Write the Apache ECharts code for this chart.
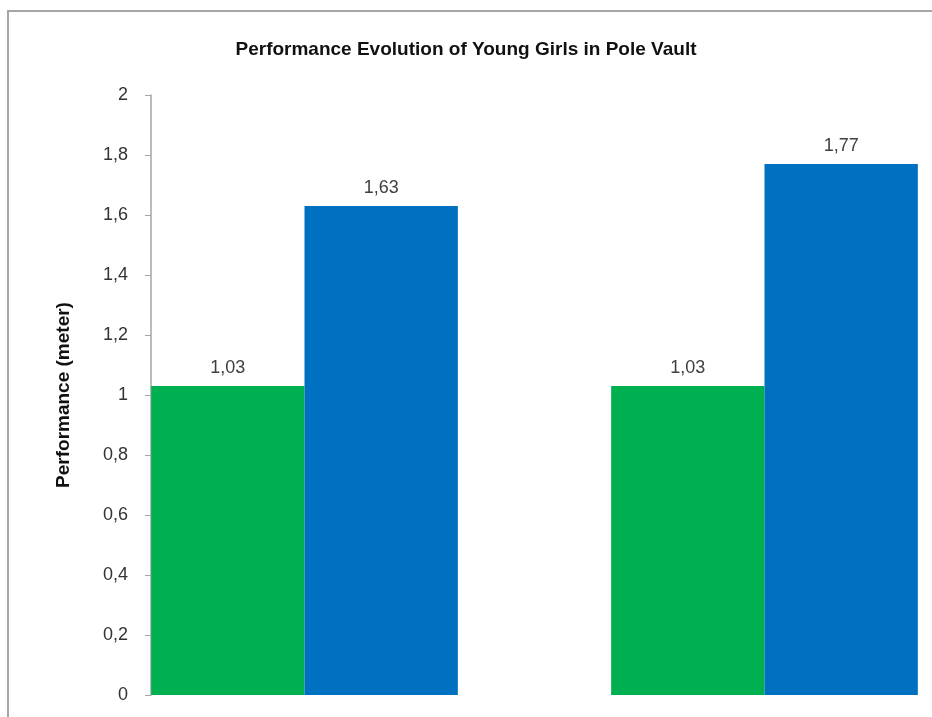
<!DOCTYPE html>
<html>
<head>
<meta charset="utf-8">
<script src="https://cdn.jsdelivr.net/npm/echarts@6/dist/echarts.min.js"></script>
<style>
  html, body { margin: 0; padding: 0; background: #fff; }
  #main { width: 932px; height: 717px; }
</style>
</head>
<body>
<div id="main"></div>
<script>
  // chart data
  const categories = ['Group 1', 'Group 2'];
  const seriesNames = ['Before', 'After'];
  const greenValues = [1.03, 1.03];
  const blueValues = [1.63, 1.77];
  const yTicks = [0, 0.2, 0.4, 0.6, 0.8, 1, 1.2, 1.4, 1.6, 1.8, 2];

  const comma = v => String(v).replace('.', ',');

  const chart = echarts.init(document.getElementById('main'));

  const labelStyle = {
    show: true,
    position: 'top',
    distance: 9,
    color: '#404040',
    fontFamily: 'Liberation Sans',
    fontSize: 18,
    formatter: p => comma(p.value)
  };

  chart.setOption({
    animation: false,
    title: {
      text: 'Performance Evolution of Young Girls in Pole Vault',
      left: 'center',
      top: 35,
      textStyle: {
        fontFamily: 'Liberation Sans',
        fontWeight: 'bold',
        fontSize: 19,
        color: '#111'
      }
    },
    graphic: [{
      type: 'rect',
      shape: { x: 8, y: 11, width: 960, height: 760 },
      style: { fill: 'none', stroke: '#a6a6a6', lineWidth: 2 },
      z: -1
    }],
    grid: {
      left: 74.5, top: 95, bottom: 22, width: 920,
      outerBoundsMode: 'none'
    },
    xAxis: {
      type: 'category',
      data: categories,
      axisLine: { show: false },
      axisTick: { show: false },
      axisLabel: { show: false }
    },
    yAxis: {
      type: 'value',
      min: 0,
      max: yTicks[yTicks.length - 1],
      interval: 0.2,
      offset: -76.5,
      name: 'Performance (meter)',
      nameLocation: 'middle',
      nameGap: 78,
      nameTextStyle: {
        fontFamily: 'Liberation Sans',
        fontWeight: 'bold',
        fontSize: 19,
        color: '#111'
      },
      axisLine: { show: true, lineStyle: { color: '#a6a6a6', width: 1.5 } },
      axisTick: { show: true, length: 6, lineStyle: { color: '#a6a6a6' } },
      splitLine: { show: false },
      axisLabel: {
        margin: 23,
        color: '#333',
        fontFamily: 'Liberation Sans',
        fontSize: 18,
        formatter: v => comma(Math.round(v * 10) / 10)
      }
    },
    series: [
      {
        name: seriesNames[0],
        type: 'bar',
        data: greenValues,
        barGap: '0%',
        barCategoryGap: '33.33%',
        itemStyle: { color: '#00b050' },
        label: labelStyle
      },
      {
        name: seriesNames[1],
        type: 'bar',
        data: blueValues,
        itemStyle: { color: '#0070c0' },
        label: labelStyle
      }
    ]
  });
</script>
</body>
</html>
